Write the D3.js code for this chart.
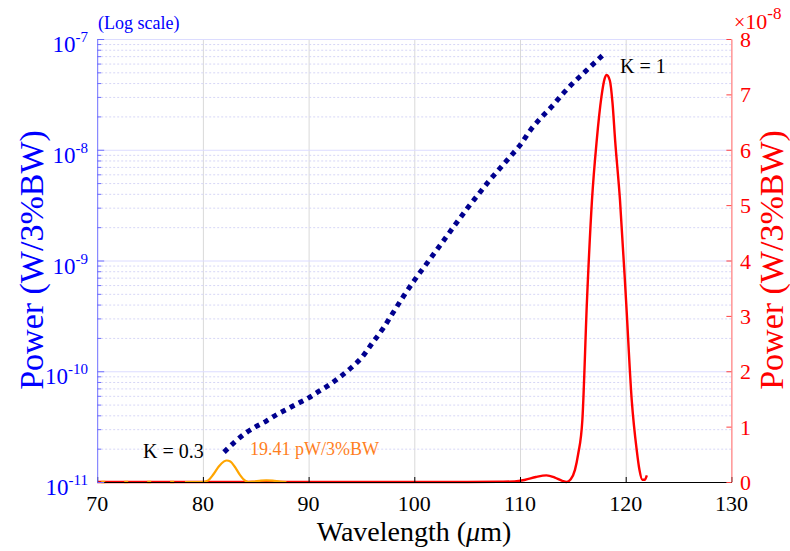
<!DOCTYPE html>
<html><head><meta charset="utf-8">
<script src="https://cdn.jsdelivr.net/npm/d3@7"></script>
<style>
body{margin:0;background:#fff}
svg{display:block;font-family:"Liberation Serif","Times New Roman",serif}
</style></head><body>
<svg id="chart" width="790" height="551"></svg>
<script>
// ---- data ----
const wavelengthTicks = [70, 80, 90, 100, 110, 120, 130];
const logDecadeExponents = [-11, -10, -9, -8, -7];
const linearTicks = [0, 1, 2, 3, 4, 5, 6, 7, 8];           // units of 1e-8 W/3%BW

// K = 1 power on the log axis (W/3%BW)
const blueWavelength = [82, 83, 84, 85, 86, 87, 88, 89, 90, 91, 92, 93, 94, 95, 96, 97, 98, 99, 100,
  101, 102, 103, 104, 105, 106, 107, 108, 109, 110, 111, 112, 113, 114, 115, 116, 117, 118];
const bluePower = [1.86e-11, 2.29e-11, 2.75e-11, 3.16e-11, 3.55e-11, 4.07e-11, 4.57e-11, 5.13e-11,
  5.75e-11, 6.61e-11, 7.59e-11, 8.91e-11, 1.07e-10, 1.32e-10, 1.78e-10, 2.40e-10, 3.39e-10, 4.79e-10,
  6.61e-10, 8.91e-10, 1.20e-9, 1.62e-9, 2.19e-9, 2.95e-9, 3.89e-9, 5.13e-9, 6.61e-9, 8.51e-9, 1.10e-8,
  1.51e-8, 1.95e-8, 2.45e-8, 3.16e-8, 3.98e-8, 4.90e-8, 6.03e-8, 7.41e-8];

// K = 1 power on the linear axis (1e-8 W/3%BW)
const redWavelength = [70, 80, 90, 100, 105, 108, 109.5, 110.5, 111.5, 112.5, 113.3, 114, 114.4, 114.8,
  115.2, 115.5, 115.9, 116.34, 116.81, 117.26, 117.7, 118.0, 118.2, 118.5, 118.75, 119.0, 119.46,
  120.03, 120.57, 121.04, 121.3, 121.57, 121.8, 122.0];
const redPower = [0, 0, 0, 0, 0, 0.005, 0.01, 0.04, 0.09, 0.12, 0.08, 0.02, 0, 0.05,
  0.22, 0.5, 1.12, 3.29, 5.09, 6.17, 6.95, 7.28, 7.35, 7.25, 6.85, 6.17, 5.09,
  3.29, 1.48, 0.58, 0.22, 0.04, 0.04, 0.12];

// K = 0.3 power (pW/3%BW), plotted magnified on the linear axis
const orangeWavelength = [70, 78.3, 80, 80.5, 81, 81.5, 82, 82.25, 82.6, 83, 83.5, 84, 84.3, 84.8,
  85.5, 86, 86.6, 87.3, 87.9];
const orangePower = [0, 0, 0, 1.5, 7, 14, 18.6, 19.41, 18.5, 14, 6.5, 1.2, 0, 0.4, 1.3, 1.5, 1.2, 0.4, 0];
const orangeMagnification = 200;
const orangeDashEnd = 78.3;

const annotations = [
  {text: "K = 1", x: 620, y: 73, color: "#000", size: 20},
  {text: "K = 0.3", x: 143, y: 458, color: "#000", size: 20},
  {text: "19.41 pW/3%BW", x: 250, y: 455, color: "#ff7f1e", size: 18}
];

// ---- layout ----
const plotLeft = 97.2, plotRight = 731.4, plotTop = 39, plotBottom = 482;
const svg = d3.select("#chart");

const x = d3.scaleLinear().domain([70, 130]).range([plotLeft, plotRight]);
const yLog = d3.scaleLog().domain([1e-11, 1e-7]).range([plotBottom, plotTop]);
const yLin = d3.scaleLinear().domain([0, 8]).range([plotBottom, plotTop]);

const BLUE = "#0000ff", RED = "#ff0000";

// minor decade values 2..9 × 10^n
const minorLog = [];
logDecadeExponents.slice(0, -1).forEach(e => {
  for (let m = 2; m <= 9; m++) minorLog.push(m * Math.pow(10, e));
});
const majorLog = logDecadeExponents.map(e => Math.pow(10, e));

// ---- grid ----
const grid = svg.append("g");
grid.append("g").attr("transform", `translate(0,${plotBottom})`)
  .call(d3.axisBottom(x).tickValues(wavelengthTicks.slice(1, -1)).tickSize(-(plotBottom - plotTop)).tickFormat(""))
  .call(g => g.select(".domain").remove())
  .call(g => g.selectAll("line").attr("stroke", "#d9d9d9").attr("stroke-width", 1));
grid.append("g").attr("transform", `translate(${plotLeft},0)`)
  .call(d3.axisLeft(yLog).tickValues(minorLog).tickSize(-(plotRight - plotLeft)).tickFormat(""))
  .call(g => g.select(".domain").remove())
  .call(g => g.selectAll("line").attr("stroke", "#d6d6f6").attr("stroke-width", 1).attr("stroke-dasharray", "2,2"));
grid.append("g").attr("transform", `translate(${plotLeft},0)`)
  .call(d3.axisLeft(yLog).tickValues(majorLog).tickSize(-(plotRight - plotLeft)).tickFormat(""))
  .call(g => g.select(".domain").remove())
  .call(g => g.selectAll("line").attr("stroke", "#dcdcff").attr("stroke-width", 1));

// ---- series ----
const redLine = d3.line().x((d, i) => x(redWavelength[i])).y(d => yLin(d)).curve(d3.curveMonotoneX);
svg.append("path").datum(redPower).attr("d", redLine)
  .attr("fill", "none").attr("stroke", RED).attr("stroke-width", 2.4);

const orangeScaled = orangePower.map(p => p * 1e-12 * orangeMagnification / 1e-8);
const orangeLine = d3.line().x(d => x(d[0])).y(d => yLin(d[1])).curve(d3.curveMonotoneX);
const orangePts = orangeWavelength.map((w, i) => [w, orangeScaled[i]]);
svg.append("path").datum(orangePts.filter(d => d[0] <= orangeDashEnd)).attr("d", orangeLine)
  .attr("fill", "none").attr("stroke", "#ffa500").attr("stroke-width", 2.6)
  .attr("stroke-dasharray", "4,19").attr("stroke-dashoffset", -4);
svg.append("path").datum(orangePts.filter(d => d[0] >= orangeDashEnd)).attr("d", orangeLine)
  .attr("fill", "none").attr("stroke", "#ffa500").attr("stroke-width", 2.2);

const blueLine = d3.line().x((d, i) => x(blueWavelength[i])).y(d => yLog(d)).curve(d3.curveMonotoneX);
svg.append("path").datum(bluePower).attr("d", blueLine)
  .attr("fill", "none").attr("stroke", "#00008f").attr("stroke-width", 5)
  .attr("stroke-dasharray", "5,5");

// ---- axes ----
// bottom
svg.append("g").attr("transform", `translate(0,${plotBottom})`)
  .call(d3.axisBottom(x).tickValues(wavelengthTicks).tickSizeInner(-5).tickSizeOuter(0).tickFormat(""))
  .call(g => g.select(".domain").attr("stroke", "#000"))
  .call(g => g.selectAll(".tick line").attr("stroke", "#000"));
svg.append("g").selectAll("text").data(wavelengthTicks).join("text")
  .attr("x", d => x(d)).attr("y", 511).attr("text-anchor", "middle")
  .attr("font-size", 22).attr("fill", "#000").text(d => d);

// left (log)
svg.append("g").attr("transform", `translate(${plotLeft},0)`)
  .call(d3.axisLeft(yLog).tickValues(minorLog).tickSizeInner(-4).tickSizeOuter(0).tickFormat(""))
  .call(g => g.select(".domain").attr("stroke", "#6e6eff"))
  .call(g => g.selectAll(".tick line").attr("stroke", "#6e6eff"));
svg.append("g").attr("transform", `translate(${plotLeft},0)`)
  .call(d3.axisLeft(yLog).tickValues(majorLog).tickSizeInner(-7).tickSizeOuter(0).tickFormat(""))
  .call(g => g.select(".domain").remove())
  .call(g => g.selectAll(".tick line").attr("stroke", "#6e6eff"));
const leftLabels = svg.append("g").selectAll("text").data(logDecadeExponents).join("text")
  .attr("x", 88).attr("y", d => yLog(Math.pow(10, d)) + 13).attr("text-anchor", "end")
  .attr("fill", BLUE).attr("font-size", 23);
leftLabels.append("tspan").text("10");
leftLabels.append("tspan").attr("dy", -10).attr("font-size", 15).text(d => String(d));

// right (linear)
svg.append("g").attr("transform", `translate(${plotRight},0)`)
  .call(d3.axisRight(yLin).tickValues(linearTicks).tickSizeInner(-5).tickSizeOuter(0).tickFormat(""))
  .call(g => g.select(".domain").attr("stroke", "#ff6060"))
  .call(g => g.selectAll(".tick line").attr("stroke", "#ff4040"));
svg.append("g").selectAll("text").data(linearTicks).join("text")
  .attr("x", 740).attr("y", d => yLin(d) + 8).attr("fill", RED).attr("font-size", 22).text(d => d);
const expo = svg.append("text").attr("x", 734).attr("y", 29).attr("fill", RED).attr("font-size", 22);
expo.append("tspan").attr("font-size", 20).text("×");
expo.append("tspan").text("10");
expo.append("tspan").attr("dy", -10).attr("font-size", 17).text("-8");

// ---- titles ----
svg.append("text").attr("x", 98).attr("y", 29).attr("fill", BLUE).attr("font-size", 18).text("(Log scale)");
svg.append("text").attr("transform", "translate(43,260) rotate(-90)").attr("text-anchor", "middle")
  .attr("fill", BLUE).attr("font-size", 34).text("Power (W/3%BW)");
svg.append("text").attr("transform", "translate(783,260) rotate(-90)").attr("text-anchor", "middle")
  .attr("fill", RED).attr("font-size", 34).text("Power (W/3%BW)");
const xt = svg.append("text").attr("x", 414).attr("y", 541).attr("text-anchor", "middle")
  .attr("fill", "#000").attr("font-size", 28);
xt.append("tspan").text("Wavelength (");
xt.append("tspan").attr("font-style", "italic").text("μ");
xt.append("tspan").text("m)");

svg.append("g").selectAll("text").data(annotations).join("text")
  .attr("x", d => d.x).attr("y", d => d.y).attr("fill", d => d.color)
  .attr("font-size", d => d.size).text(d => d.text);
</script>
</body></html>
